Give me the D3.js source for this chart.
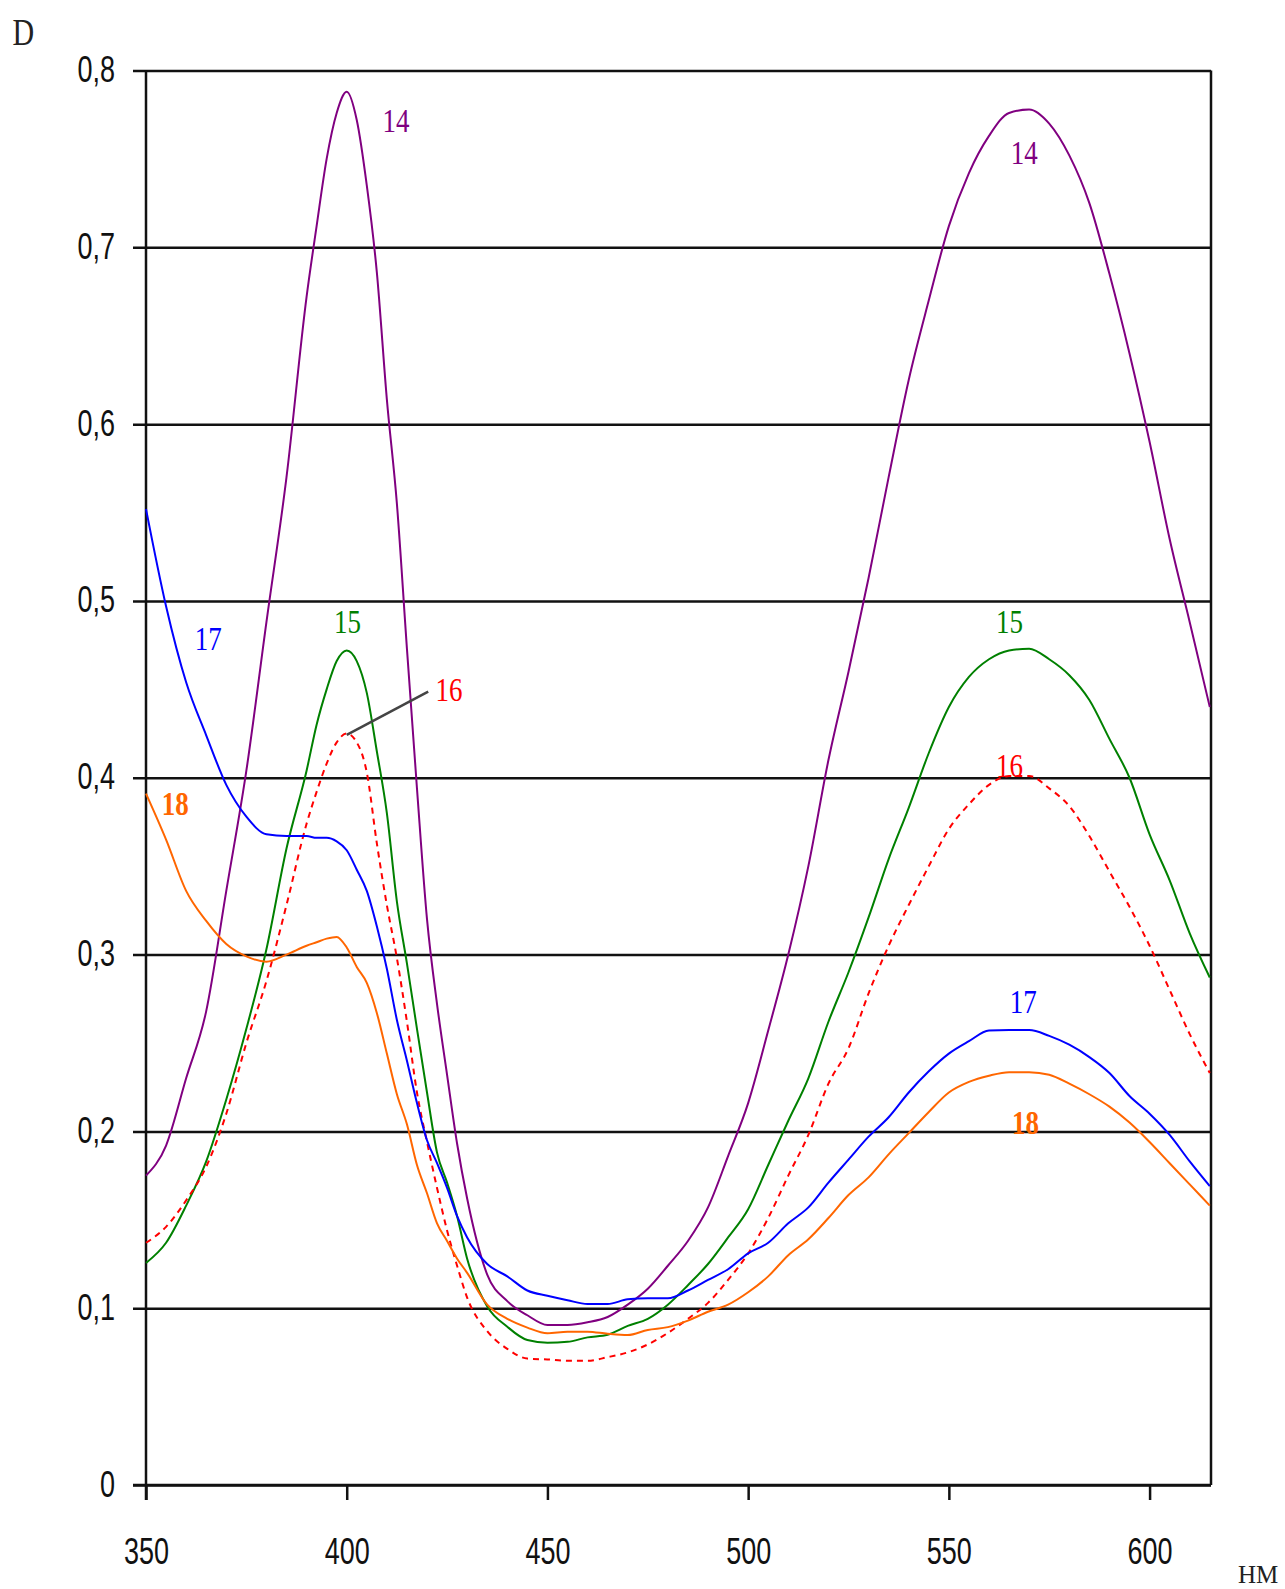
<!DOCTYPE html>
<html>
<head>
<meta charset="utf-8">
<script src="https://cdn.jsdelivr.net/npm/d3@7/dist/d3.min.js"></script>
<style>
  html, body { margin: 0; padding: 0; background: #ffffff; }
  svg { display: block; }
</style>
</head>
<body>
<div id="chart"></div>
<script>
// Wavelength grid, nm
const wavelengths = [350, 355, 360, 365, 370, 375, 380, 385, 390, 392.5, 395, 397.5, 400, 402.5, 405, 407.5, 410, 412.5, 415, 417.5, 420, 422.5, 425, 427.5, 430, 435, 440, 445, 450, 455, 460, 465, 470, 475, 480, 485, 490, 495, 500, 505, 510, 515, 520, 525, 530, 535, 540, 545, 550, 555, 560, 565, 570, 575, 580, 585, 590, 595, 600, 605, 610, 615];

// Optical density D for each sample
const series14 = [0.175, 0.192, 0.230, 0.268, 0.336, 0.404, 0.488, 0.570, 0.672, 0.712, 0.750, 0.776, 0.788, 0.772, 0.735, 0.686, 0.614, 0.555, 0.473, 0.394, 0.320, 0.272, 0.232, 0.193, 0.162, 0.119, 0.104, 0.096, 0.0905, 0.0905, 0.092, 0.095, 0.102, 0.111, 0.124, 0.138, 0.157, 0.186, 0.216, 0.257, 0.300, 0.350, 0.410, 0.460, 0.513, 0.570, 0.625, 0.670, 0.712, 0.742, 0.763, 0.776, 0.778, 0.770, 0.752, 0.725, 0.685, 0.640, 0.590, 0.535, 0.488, 0.440];
const series15 = [0.1256, 0.137, 0.158, 0.183, 0.218, 0.258, 0.303, 0.360, 0.404, 0.430, 0.450, 0.466, 0.472, 0.466, 0.448, 0.415, 0.380, 0.330, 0.295, 0.258, 0.222, 0.188, 0.171, 0.152, 0.128, 0.101, 0.0895, 0.082, 0.0805, 0.081, 0.0835, 0.085, 0.090, 0.094, 0.102, 0.113, 0.125, 0.140, 0.156, 0.181, 0.206, 0.230, 0.262, 0.290, 0.321, 0.354, 0.383, 0.414, 0.440, 0.457, 0.467, 0.472, 0.473, 0.467, 0.458, 0.444, 0.422, 0.400, 0.368, 0.342, 0.312, 0.287];
const series16 = [0.137, 0.146, 0.161, 0.180, 0.210, 0.250, 0.285, 0.328, 0.374, 0.392, 0.408, 0.420, 0.425, 0.420, 0.403, 0.363, 0.328, 0.298, 0.262, 0.222, 0.194, 0.168, 0.144, 0.124, 0.106, 0.087, 0.077, 0.0715, 0.071, 0.0703, 0.0703, 0.0723, 0.075, 0.0795, 0.086, 0.094, 0.103, 0.116, 0.131, 0.151, 0.175, 0.198, 0.227, 0.247, 0.278, 0.305, 0.328, 0.350, 0.371, 0.385, 0.396, 0.401, 0.401, 0.394, 0.384, 0.367, 0.347, 0.327, 0.305, 0.280, 0.255, 0.233];
const series17 = [0.552, 0.497, 0.454, 0.424, 0.396, 0.378, 0.368, 0.367, 0.367, 0.366, 0.366, 0.364, 0.359, 0.348, 0.336, 0.316, 0.292, 0.263, 0.240, 0.216, 0.195, 0.182, 0.168, 0.152, 0.140, 0.125, 0.118, 0.110, 0.107, 0.1045, 0.1024, 0.1024, 0.105, 0.1056, 0.1056, 0.110, 0.116, 0.122, 0.131, 0.137, 0.148, 0.157, 0.171, 0.184, 0.197, 0.208, 0.222, 0.234, 0.244, 0.251, 0.257, 0.2573, 0.2573, 0.254, 0.249, 0.242, 0.233, 0.220, 0.210, 0.198, 0.183, 0.169];
const series18 = [0.391, 0.365, 0.336, 0.319, 0.306, 0.299, 0.296, 0.300, 0.305, 0.307, 0.309, 0.310, 0.304, 0.293, 0.284, 0.267, 0.244, 0.221, 0.204, 0.181, 0.165, 0.148, 0.138, 0.128, 0.120, 0.102, 0.094, 0.089, 0.0858, 0.0867, 0.0867, 0.0855, 0.0848, 0.0877, 0.0893, 0.093, 0.098, 0.102, 0.109, 0.118, 0.130, 0.139, 0.151, 0.164, 0.174, 0.187, 0.199, 0.211, 0.222, 0.228, 0.2315, 0.2335, 0.2335, 0.232, 0.227, 0.221, 0.214, 0.205, 0.194, 0.182, 0.170, 0.158];

const seriesNames = ["14", "15", "16", "17", "18"];
const seriesValues = [series14, series15, series16, series17, series18];

// Axis ticks
const xTicks = [350, 400, 450, 500, 550, 600];
const yTicks = [0, 0.1, 0.2, 0.3, 0.4, 0.5, 0.6, 0.7, 0.8];
const xDomain = [350, 615.3];
const yDomain = [0, 0.8];

// Curve number labels, anchored in data units (nm, D)
const labelSeries = ["14", "14", "15", "15", "16", "16", "17", "17", "18", "18"];
const labelNm     = [412.3, 568.8, 400.2, 565.1, 425.5, 565.1, 365.5, 568.5, 357.3, 569.1];
const labelD      = [0.765, 0.747, 0.4817, 0.4816, 0.4434, 0.4006, 0.4723, 0.267, 0.379, 0.1984];
// Leader from the peak of curve 16 to its label
const leaderNm = [400, 420.3];
const leaderD  = [0.4242, 0.4487];

// ---- styling ----
const W = 1285, H = 1589;
const M = { left: 146, right: 1211, top: 70.5, bottom: 1485 };
const colors = { "14": "#800080", "15": "#008000", "16": "#ff0000", "17": "#0000ff", "18": "#ff6600" };
const dashes = { "16": "6,5" };
const boldLabels = { "18": true };
const tickFont = "'Liberation Sans', Arial, sans-serif";
const tickStretch = 1.4;
const serifFont = "'Liberation Serif', 'Times New Roman', serif";

const svg = d3.select("#chart").append("svg")
  .attr("width", W).attr("height", H)
  .style("background", "#fff");

const x = d3.scaleLinear().domain(xDomain).range([M.left, M.right]);
const y = d3.scaleLinear().domain(yDomain).range([M.bottom, M.top]);

// Horizontal grid lines + y tick labels
const yAxis = d3.axisLeft(y)
  .tickValues(yTicks)
  .tickSize(-(M.right - M.left))
  .tickSizeOuter(0)
  .tickPadding(0)
  .tickFormat(d => d === 0 ? "0" : d3.format(".1f")(d).replace(".", ","));

const gy = svg.append("g").attr("transform", `translate(${M.left},0)`).call(yAxis);
gy.select(".domain").remove();
gy.selectAll(".tick line")
  .attr("x1", -13)
  .attr("stroke", "#111").attr("stroke-width", 2.5);
gy.selectAll(".tick text")
  .attr("x", -31).attr("dy", null).attr("y", 11 / tickStretch)
  .attr("transform", `scale(1,${tickStretch})`)
  .attr("text-anchor", "end")
  .style("font-family", tickFont)
  .style("font-size", "27px")
  .attr("fill", "#111");

// Bottom axis with ticks and labels
const xAxis = d3.axisBottom(x)
  .tickValues(xTicks)
  .tickSize(15)
  .tickSizeOuter(0)
  .tickFormat(d3.format("d"));
const gx = svg.append("g").attr("transform", `translate(0,${M.bottom})`).call(xAxis);
gx.select(".domain").remove();
gx.selectAll(".tick line").attr("stroke", "#111").attr("stroke-width", 2.5);
gx.selectAll(".tick text")
  .attr("y", 79 / tickStretch).attr("dy", null)
  .attr("transform", `scale(1,${tickStretch})`)
  .style("font-family", tickFont)
  .style("font-size", "27px")
  .attr("fill", "#111");

// Frame: left axis, bottom axis, right border
svg.append("line")
  .attr("x1", M.left).attr("x2", M.left)
  .attr("y1", M.top).attr("y2", M.bottom + 15)
  .attr("stroke", "#111").attr("stroke-width", 2.5);
svg.append("line")
  .attr("x1", M.left - 13).attr("x2", M.right)
  .attr("y1", M.bottom).attr("y2", M.bottom)
  .attr("stroke", "#111").attr("stroke-width", 2.5);
svg.append("line")
  .attr("x1", M.right).attr("x2", M.right)
  .attr("y1", M.top).attr("y2", M.bottom)
  .attr("stroke", "#111").attr("stroke-width", 2.5);

// Spectral curves
const line = d3.line()
  .x(d => x(d[0]))
  .y(d => y(d[1]))
  .curve(d3.curveMonotoneX);

const curves = svg.append("g");
seriesNames.forEach((name, i) => {
  const pts = wavelengths.map((w, j) => [w, seriesValues[i][j]]);
  curves.append("path")
    .datum(pts)
    .attr("d", line)
    .attr("fill", "none")
    .attr("stroke", colors[name])
    .attr("stroke-width", 2)
    .attr("stroke-dasharray", dashes[name] || null)
    .attr("stroke-linejoin", "round");
});

// Leader line for curve 16
svg.append("line")
  .attr("x1", x(leaderNm[0])).attr("y1", y(leaderD[0]))
  .attr("x2", x(leaderNm[1])).attr("y2", y(leaderD[1]))
  .attr("stroke", "#444").attr("stroke-width", 2.5);

// Curve number labels
labelSeries.forEach((name, i) => {
  svg.append("text")
    .attr("transform", `translate(${x(labelNm[i])},${y(labelD[i])}) scale(1,1.24)`)
    .attr("text-anchor", "middle")
    .style("font-family", serifFont)
    .style("font-size", "27px")
    .style("font-weight", boldLabels[name] ? "bold" : "normal")
    .attr("fill", colors[name])
    .text(name);
});

// Axis titles
svg.append("text")
  .attr("transform", "translate(12.5,45) scale(1,1.25)")
  .style("font-family", serifFont)
  .style("font-size", "30px")
  .attr("fill", "#222")
  .text("D");
svg.append("text")
  .attr("transform", "translate(1238,1583)")
  .style("font-family", serifFont)
  .style("font-size", "25px")
  .attr("fill", "#222")
  .text("НМ");
</script>
</body>
</html>
